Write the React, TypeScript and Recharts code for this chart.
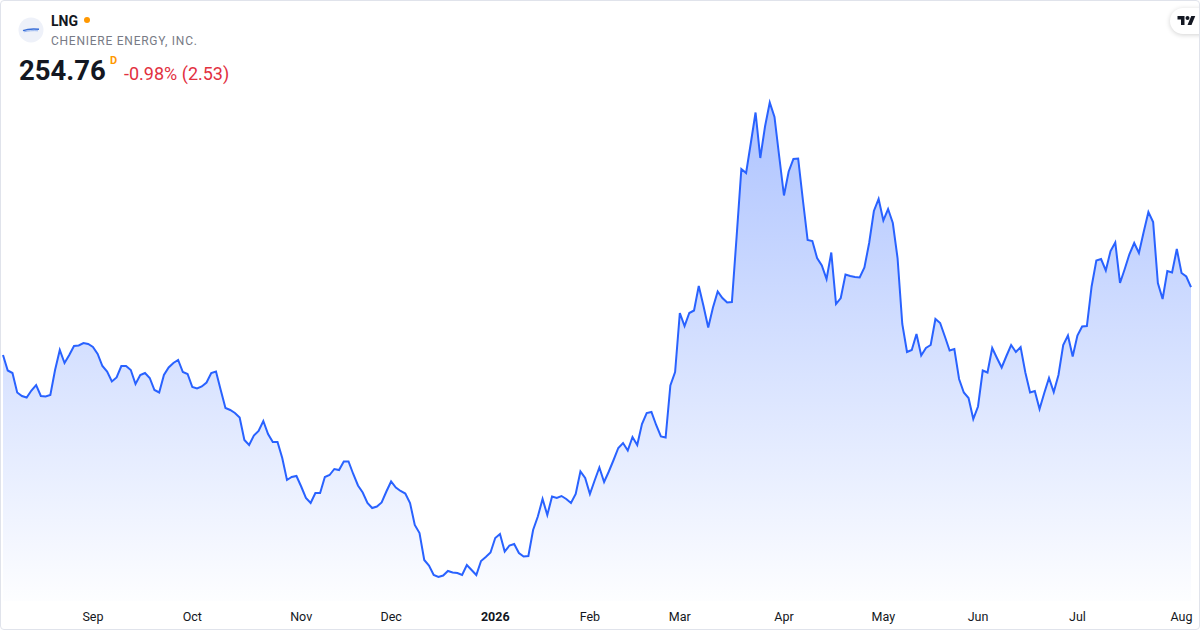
import React from 'react';
import { AreaChart, Area, XAxis, YAxis } from 'recharts';

// daily closes (Aug 2025 -> Aug 2026)
const prices = [
  241.2, 238.1, 237.6, 233.7, 233.0, 232.7, 234.1, 235.2, 233.0, 232.9,
  233.2, 238.2, 242.2, 239.6, 241.2, 243.0, 243.1, 243.6, 243.4, 242.8,
  241.4, 239.0, 237.9, 235.9, 236.7, 239.0, 239.0, 238.2, 235.4, 237.2,
  237.6, 236.6, 234.2, 233.7, 237.2, 238.7, 239.6, 240.2, 237.8, 237.4,
  234.8, 234.5, 234.9, 235.7, 237.6, 237.9, 234.2, 230.6, 230.2, 229.6,
  228.7, 224.2, 223.2, 225.1, 226.0, 228.0, 225.4, 223.8, 223.8, 220.6,
  216.2, 216.8, 217.0, 214.9, 212.6, 211.6, 213.6, 213.6, 216.8, 217.2,
  218.4, 218.2, 219.9, 219.9, 217.4, 215.1, 213.7, 211.6, 210.6, 210.9,
  211.7, 213.9, 215.9, 214.7,
  214.0, 213.5, 211.6, 207.2, 205.6, 200.2, 199.1, 197.2, 196.8, 197.1,
  198.0, 197.7, 197.6, 197.2, 199.2, 198.2, 197.2, 200.0, 200.8, 201.7,
  204.6, 205.4, 201.9, 203.1, 203.4, 201.6, 200.9, 201.0, 206.2, 208.9,
  212.4, 209.2, 212.9, 212.6, 213.0, 212.4, 211.6, 213.4, 217.9, 216.6,
  213.4, 216.1, 218.7, 215.8, 217.9, 220.2, 222.6, 223.6, 222.1, 224.8,
  223.2, 227.4, 229.6, 229.8, 227.2, 224.9, 224.7, 235.1, 237.8,
  249.6, 247.0, 249.6, 250.1, 255.0, 251.0, 246.7, 250.7, 253.9, 252.6,
  251.7, 251.8, 264.9, 278.4, 277.6, 283.6, 289.7, 280.6, 286.9, 291.7,
  288.8, 280.9, 273.1, 277.9, 280.4, 280.5, 272.2, 264.2, 264.0, 260.6,
  259.1, 256.4, 261.7, 251.4, 252.6, 257.3, 257.0, 256.8, 256.7, 258.7,
  263.6, 270.0, 272.4, 268.1, 270.4, 267.6, 260.6, 247.4, 241.8, 242.2,
  245.4, 241.1, 242.6, 243.2, 248.4, 247.6, 244.9, 242.1,
  242.4, 236.4, 233.7, 232.6, 228.4, 230.9, 238.1, 237.7, 242.6, 240.6,
  238.7, 241.0, 243.2, 241.8, 242.8, 237.7, 233.7, 234.0, 230.4, 233.6,
  236.6, 233.8, 237.2, 243.2, 245.1, 240.9, 245.1, 246.9, 247.0, 254.9,
  260.1, 260.4, 258.1, 262.0, 263.7, 255.6, 258.4, 261.4, 263.6, 261.6,
  265.8, 269.8, 267.8, 255.6, 252.4, 258.0, 257.7, 262.4, 257.6, 256.9,
  254.76,
];

// first trading day of each month (index into prices)
const tickIndex = [19, 40, 63, 82, 104, 124, 143, 165, 186, 206, 227, 249];
const tickLabels = ['Sep', 'Oct', 'Nov', 'Dec', '2026', 'Feb', 'Mar', 'Apr', 'May', 'Jun', 'Jul', 'Aug'];

const data = prices.map((p, i) => ({ i, p }));

const FONT = 'Roboto, "Noto Sans", sans-serif';

function MonthTick(props: any) {
  const { x, y, payload } = props;
  const label = tickLabels[tickIndex.indexOf(payload.value)] ?? '';
  const isYear = /^\d{4}$/.test(label);
  return (
    <text
      x={x}
      y={y}
      dy="0.71em"
      textAnchor="middle"
      fill="#131722"
      fontSize={12.5}
      fontWeight={isYear ? 700 : 400}
      fontFamily={FONT}
    >
      {label}
    </text>
  );
}

export default function App() {
  return (
    <div
      style={{
        position: 'absolute',
        top: 0,
        left: 0,
        width: 1200,
        height: 630,
        background: '#fff',
        fontFamily: FONT,
        overflow: 'hidden',
      }}
    >
      <div
        style={{
          position: 'absolute',
          inset: 0,
          border: '1px solid #e0e3eb',
          borderRadius: 4,
          boxSizing: 'border-box',
          pointerEvents: 'none',
          zIndex: 3,
        }}
      />

      <AreaChart
        width={1200}
        height={630}
        data={data}
        margin={{ top: 61, right: 9, bottom: 0, left: 3 }}
      >
        <defs>
          <linearGradient id="lngFill" x1="0" y1="0" x2="0" y2="1">
            <stop offset="0%" stopColor="#2962ff" stopOpacity={0.38} />
            <stop offset="100%" stopColor="#2962ff" stopOpacity={0.01} />
          </linearGradient>
        </defs>
        <XAxis
          dataKey="i"
          type="number"
          domain={[0, prices.length - 1]}
          ticks={tickIndex}
          interval={0}
          axisLine={false}
          tickLine={false}
          tickSize={0}
          tickMargin={11}
          height={29}
          tick={<MonthTick />}
        />
        <YAxis hide domain={[192, 300]} />
        <Area
          type="linear"
          dataKey="p"
          stroke="#2962ff"
          strokeWidth={2}
          fill="url(#lngFill)"
          fillOpacity={1}
          baseValue={192}
          dot={false}
          activeDot={false}
          isAnimationActive={false}
        />
      </AreaChart>

      {/* header */}
      <svg width={26} height={26} style={{ position: 'absolute', left: 18, top: 17 }}>
        <circle cx={13} cy={13} r={12.5} fill="#eef1f9" />
        <path d="M5 13.6 C9 12.2 14 11.6 21 12.3" stroke="#3a6fd8" strokeWidth={1.4} fill="none" />
        <path d="M6 14.8 C10 13.8 15 13.4 20 13.8" stroke="#8fb0ee" strokeWidth={0.9} fill="none" />
      </svg>
      <div
        style={{
          position: 'absolute',
          left: 51,
          top: 12,
          fontSize: 14,
          fontWeight: 700,
          color: '#131722',
          lineHeight: '18px',
        }}
      >
        LNG
      </div>
      <div
        style={{
          position: 'absolute',
          left: 84,
          top: 17,
          width: 6,
          height: 6,
          borderRadius: 3,
          background: '#ff9800',
        }}
      />
      <div
        style={{
          position: 'absolute',
          left: 51,
          top: 33,
          fontSize: 12,
          color: '#787b86',
          lineHeight: '16px',
          letterSpacing: 0.75,
        }}
      >
        CHENIERE ENERGY, INC.
      </div>
      <div
        style={{
          position: 'absolute',
          left: 19,
          top: 54,
          fontSize: 27.5,
          fontWeight: 700,
          color: '#131722',
          lineHeight: '34px',
        }}
      >
        254.76
      </div>
      <div
        style={{
          position: 'absolute',
          left: 110,
          top: 54,
          fontSize: 11,
          fontWeight: 700,
          color: '#ff9800',
          lineHeight: '13px',
        }}
      >
        D
      </div>
      <div
        style={{
          position: 'absolute',
          left: 124,
          top: 63,
          fontSize: 18,
          color: '#e2313f',
          lineHeight: '22px',
        }}
      >
        -0.98% (2.53)
      </div>

      {/* TradingView badge */}
      <div
        style={{
          position: 'absolute',
          left: 1170,
          top: 8,
          width: 44,
          height: 26,
          borderRadius: 13,
          background: '#fff',
          boxShadow: '0 1px 5px rgba(0,0,0,0.18)',
          zIndex: 2,
        }}
      >
        <svg width={19} height={14} viewBox="0 0 36 28" style={{ position: 'absolute', left: 7, top: 6 }}>
          <path d="M14 22H7V11H0V4h14v18z" fill="#131722" />
          <circle cx={20} cy={8} r={4} fill="#131722" />
          <path d="M28 22h-8l7.5-18h8L28 22z" fill="#131722" />
        </svg>
      </div>
    </div>
  );
}
